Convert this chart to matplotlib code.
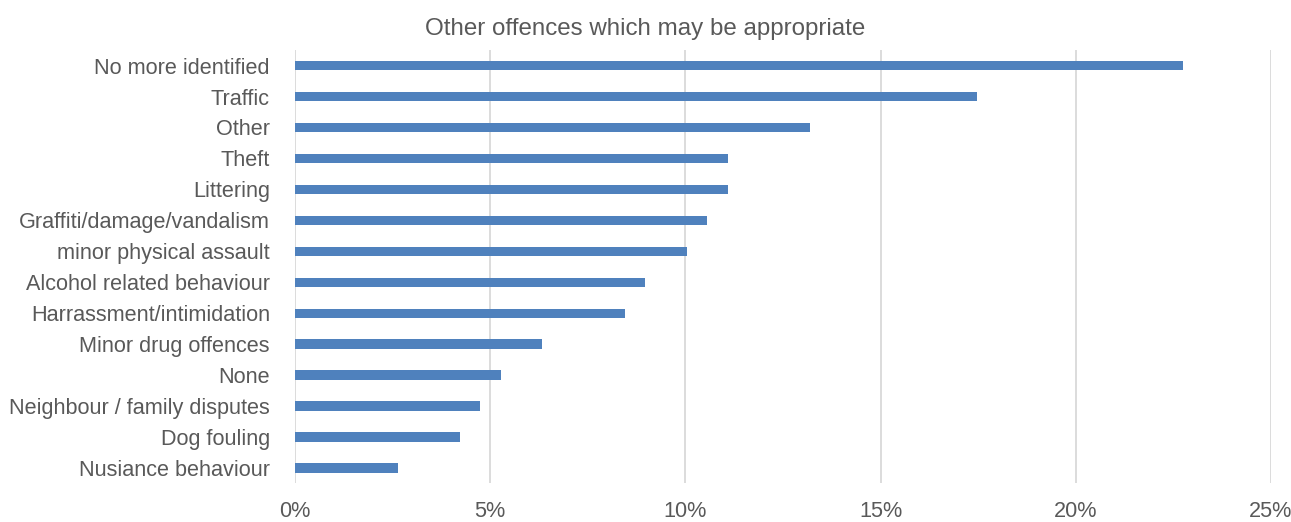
import matplotlib.pyplot as plt
from matplotlib.ticker import FuncFormatter

# offence categories, top to bottom as listed in the survey summary
categories = [
    "No more identified",
    "Traffic",
    "Other",
    "Theft",
    "Littering",
    "Graffiti/damage/vandalism",
    "minor physical assault",
    "Alcohol related behaviour",
    "Harrassment/intimidation",
    "Minor drug offences",
    "None",
    "Neighbour / family disputes",
    "Dog fouling",
    "Nusiance behaviour",
]
# share of responses (%)
shares = [22.75, 17.47, 13.2, 11.1, 11.1, 10.56, 10.04, 8.97, 8.45, 6.33, 5.27, 4.75, 4.22, 2.64]
x_ticks = [0, 5, 10, 15, 20, 25]

BAR_COLOR = "#4f81bd"
TEXT_COLOR = "#595959"
GRID_COLOR = "#d9d9d9"

plt.rcParams["font.family"] = ["Liberation Sans", "DejaVu Sans"]

fig = plt.figure(figsize=(12.91, 5.22), dpi=100)
ax = fig.add_axes([0.2285, 0.074, 0.756, 0.830])

ypos = list(range(len(categories)))
ax.barh(ypos, shares, height=0.30, color=BAR_COLOR, zorder=3)

ax.set_ylim(len(categories) - 0.5, -0.5)
ax.set_yticks(ypos)
ax.set_yticklabels(categories)
ax.set_xlim(0, 25)
ax.set_xticks(x_ticks)
ax.xaxis.set_major_formatter(FuncFormatter(lambda v, _: f"{v:.0f}%"))

ax.grid(axis="x", color=GRID_COLOR, linewidth=1.3, zorder=0)
for side in ["top", "right", "bottom", "left"]:
    ax.spines[side].set_visible(False)
ax.tick_params(axis="y", length=0, pad=18, labelsize=15.6, labelcolor=TEXT_COLOR)
ax.tick_params(axis="x", length=0, pad=13, labelsize=15.6, labelcolor=TEXT_COLOR)

fig.text(0.5, 0.944, "Other offences which may be appropriate",
         ha="center", va="center", fontsize=17.4, color=TEXT_COLOR)

fig.savefig("out.png", dpi=100)
